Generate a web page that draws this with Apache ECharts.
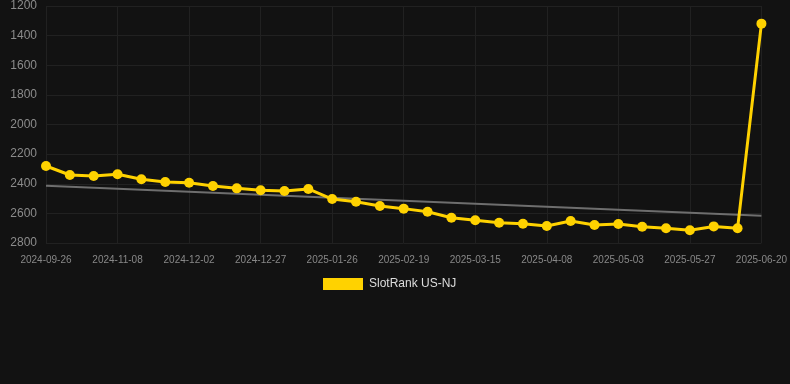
<!DOCTYPE html>
<html><head><meta charset="utf-8">
<script src="https://cdn.jsdelivr.net/npm/echarts@6/dist/echarts.min.js"></script>
<style>html,body{margin:0;padding:0;background:#121212}#c{width:790px;height:384px}</style>
</head><body><div id="c"></div>
<script>
const categories = ['2024-09-26','2024-10-10','2024-10-24','2024-11-08','2024-11-16','2024-11-24','2024-12-02','2024-12-10','2024-12-18','2024-12-27','2025-01-06','2025-01-16','2025-01-26','2025-02-03','2025-02-11','2025-02-19','2025-02-27','2025-03-07','2025-03-15','2025-03-23','2025-03-31','2025-04-08','2025-04-16','2025-04-24','2025-05-03','2025-05-11','2025-05-19','2025-05-27','2025-06-04','2025-06-12','2025-06-20'];
const rankValues = [2280,2341,2348,2336,2370,2388,2393,2415,2431,2444,2449,2435,2503,2521,2550,2568,2589,2629,2647,2663,2670,2685,2651,2678,2672,2690,2701,2714,2688,2701,1319];
const trendEnds = [2413, 2616];
const seriesName = 'SlotRank US-NJ';

const trendData = categories.map((c, i) => i === 0 ? trendEnds[0] : (i === categories.length - 1 ? trendEnds[1] : null));

const chart = echarts.init(document.getElementById('c'), null, {renderer: 'canvas'});
chart.setOption({
  backgroundColor: '#121212',
  animation: false,
  grid: {left: 46, right: 28, top: 6, bottom: 141, containLabel: false},
  legend: {
    data: [seriesName],
    top: 273,
    left: 318,
    itemWidth: 40,
    itemHeight: 12,
    itemGap: 10,
    icon: 'rect',
    textStyle: {color: '#dddddd', fontSize: 12, padding: [0, 0, 0, 1], fontFamily: 'Arial, Liberation Sans, sans-serif'}
  },
  xAxis: {
    type: 'category',
    data: categories,
    boundaryGap: false,
    axisLine: {show: false},
    axisTick: {show: false},
    axisLabel: {interval: 2, color: '#888888', fontSize: 10, margin: 12, fontFamily: 'Arial, Liberation Sans, sans-serif'},
    splitLine: {show: true, interval: 2, lineStyle: {color: '#212121', width: 1}}
  },
  yAxis: {
    type: 'value',
    inverse: true,
    min: 1200,
    max: 2800,
    interval: 200,
    axisLine: {show: false},
    axisTick: {show: false},
    axisLabel: {color: '#8c8c8c', fontSize: 12, margin: 9, formatter: v => String(v), fontFamily: 'Arial, Liberation Sans, sans-serif'},
    splitLine: {show: true, lineStyle: {color: '#212121', width: 1}}
  },
  series: [
    {
      name: 'trend',
      type: 'line',
      data: trendData,
      connectNulls: true,
      symbol: 'none',
      lineStyle: {color: '#6e6e6e', width: 2},
      silent: true,
      z: 1
    },
    {
      name: seriesName,
      type: 'line',
      data: rankValues,
      symbol: 'circle',
      symbolSize: 10,
      itemStyle: {color: '#ffd200'},
      lineStyle: {color: '#ffd200', width: 3},
      z: 2
    }
  ]
});
</script></body></html>
